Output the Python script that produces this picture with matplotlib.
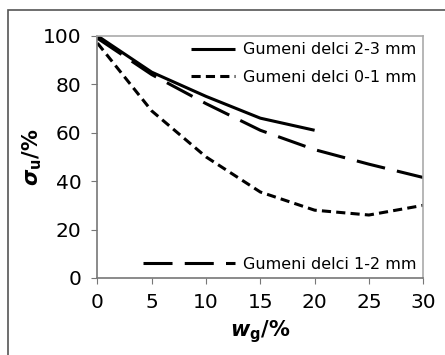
import matplotlib
matplotlib.use("Agg")
import matplotlib.pyplot as plt
from matplotlib.patches import Rectangle

plt.rcParams["font.family"] = ["DejaVu Sans"]
plt.rcParams["mathtext.fontset"] = "dejavusans"

# podatki odčitani s slike
wg = [0, 5, 10, 15, 20, 25, 30]
wg_23 = [0, 5, 10, 15, 20]
sigma_23 = [100, 85, 75, 66, 61]
sigma_12 = [99, 84, 72, 61, 53, 47, 41.5]
sigma_01 = [97, 69, 50, 35.5, 28, 26, 30]

labels = ["Gumeni delci 2-3 mm", "Gumeni delci 0-1 mm", "Gumeni delci 1-2 mm"]

fig = plt.figure(figsize=(4.45, 3.55), dpi=100)
ax = fig.add_axes([0.219, 0.217, 0.732, 0.682])

# okvir okoli slike
fig.patches.append(Rectangle((8 / 445, -0.1), 1.2, 1 - 10 / 355 + 0.1,
                             transform=fig.transFigure, fill=False,
                             edgecolor="#555555", linewidth=1.2))

l1, = ax.plot(wg_23, sigma_23, color="black", linewidth=2.2, solid_capstyle="butt")
l2, = ax.plot(wg, sigma_01, color="black", linewidth=2.2, linestyle=(0, (3, 1.7)))
l3, = ax.plot(wg, sigma_12, color="black", linewidth=2.2, linestyle=(0, (9.5, 4)))

ax.set_xlim(0, 30)
ax.set_ylim(0, 100)
ax.set_xticks([0, 5, 10, 15, 20, 25, 30])
ax.set_yticks([0, 20, 40, 60, 80, 100])
ax.tick_params(labelsize=14.5, length=4.5, color="#777777", direction="out")
ax.tick_params(axis="x", pad=6)
ax.tick_params(axis="y", pad=7)

for s in ["top", "right"]:
    ax.spines[s].set_color("#aaaaaa")
    ax.spines[s].set_linewidth(1.2)
for s in ["left", "bottom"]:
    ax.spines[s].set_color("#777777")
    ax.spines[s].set_linewidth(1.2)

leg1 = ax.legend([l1, l2], labels[:2], loc="upper right", frameon=False,
                 fontsize=11.5, handlelength=2.8, handletextpad=0.5,
                 borderaxespad=0.0, labelspacing=0.8)
ax.add_artist(leg1)
ax.legend([l3], [labels[2]], loc="lower right", frameon=False, fontsize=11.5,
          handlelength=5.8, handletextpad=0.5, borderaxespad=0.0)

ax.set_xlabel(r"$\boldsymbol{w}_\mathbf{g}$/%", fontsize=15, fontweight="bold")
ax.set_ylabel(r"$\boldsymbol{\sigma}_\mathbf{u}$/%", fontsize=15, fontweight="bold")
ax.xaxis.set_label_coords(0.5, -0.165)
ax.yaxis.set_label_coords(-0.165, 0.5)

fig.savefig("out.png", dpi=100)
